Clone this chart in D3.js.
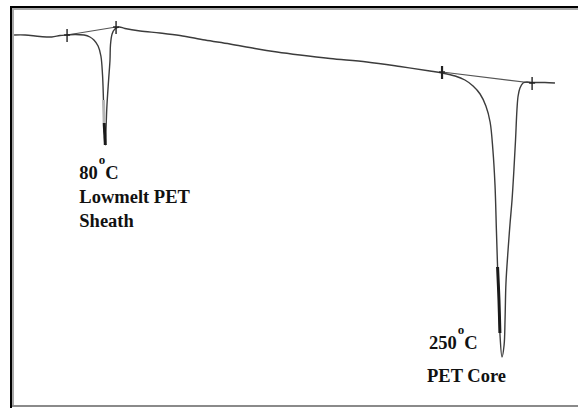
<!DOCTYPE html>
<html>
<head>
<meta charset="utf-8">
<script src="https://cdn.jsdelivr.net/npm/d3@7"></script>
<style>
  html, body { margin: 0; padding: 0; background: #fff; }
  svg { display: block; }
</style>
</head>
<body>
<svg id="chart" width="578" height="408"></svg>
<script>
// DSC trace of a bicomponent PET fibre: heat flow (endo down) vs temperature
const temps = [
  40.9, 45.6, 52.0, 57.1, 60.6, 63.6, 67.0, 70.9, 73.4, 75.1, 76.9, 78.1, 78.8, 79.2, 79.5,
  80.0,
  80.3, 80.7, 81.4, 82.0, 82.2, 82.9, 84.1, 85.9, 88.4, 94.9, 103.4, 112.0, 122.7, 133.4,
  144.1, 153.6, 163.4, 176.3, 192.1, 206.3, 219.1, 224.3, 229.9, 234.1, 237.6, 240.6, 243.1,
  244.9, 246.1, 247.0, 247.6, 248.1, 248.7, 249.1,
  250.0,
  250.9, 251.3, 251.7, 252.6, 253.4, 254.3, 255.1, 255.8, 256.4, 256.9, 257.7, 259.0, 260.7,
  262.9, 268.4, 272.7
];
const heatFlow = [
  -1.0, -1.0, -1.15, -1.2, -1.05, -1.0, -0.95, -1.0, -1.2, -1.5, -2.1, -3.1, -5.0, -7.5, -9.8,
  -12.0,
  -10.3, -8.0, -5.5, -3.5, -2.0, -0.9, -0.4, -0.2, -0.35, -0.6, -0.8, -1.05, -1.5, -1.9,
  -2.35, -2.7, -3.0, -3.35, -3.7, -4.15, -4.6, -4.8, -5.1, -5.5, -6.1, -6.9, -8.1,
  -9.7, -12.5, -16.0, -20.5, -24.2, -27.5, -30.8,
  -33.2,
  -32.0, -29.5, -25.8, -22.5, -20.0, -17.5, -14.5, -11.5, -8.5, -7.1, -6.3, -5.8, -5.7,
  -5.75, -5.75, -5.8
];

// Construction baselines joining the onset / endset markers of each peak
const tangentTemps = [[63.6, 84.6], [224.3, 262.9]];
const tangentFlows = [[-1.0, -0.2], [-4.7, -5.8]];
const markerTemps = [63.6, 84.6, 224.3, 262.9];
const markerFlows = [-1.0, -0.2, -4.7, -5.8];

// Darker recorded stretches near the peak minima
const darkBands = [[79.4, 80.0], [248.0, 249.2]];
const lightBands = [[79.1, 79.5]];

// Peak annotations
const peakTemps = [80, 250];
const peakValues = ["80", "250"];
const peakNames = [["Lowmelt PET", "Sheath"], ["PET Core"]];

const svg = d3.select("#chart");
const W = 578, H = 408;

const x = d3.scaleLinear().domain([40, 280]).range([12, 572]);
const y = d3.scaleLinear().domain([0, -34]).range([25, 365]);

// Frame: dark top/left edge with a grey inner bevel, grey bottom edge
const frame = svg.append("g");
frame.append("rect").attr("x", 10).attr("y", 6).attr("width", W - 10).attr("height", 2).attr("fill", "#000");
frame.append("rect").attr("x", 12).attr("y", 8).attr("width", W - 12).attr("height", 2).attr("fill", "#a8a8a8");
frame.append("rect").attr("x", 10).attr("y", 6).attr("width", 2).attr("height", H - 6).attr("fill", "#000");
frame.append("rect").attr("x", 12).attr("y", 8).attr("width", 2).attr("height", H - 10).attr("fill", "#a8a8a8");
frame.append("rect").attr("x", 12).attr("y", 405).attr("width", W - 12).attr("height", 2).attr("fill", "#8a8a8a");

const pts = temps.map((t, i) => [t, heatFlow[i]]);
const line = d3.line()
  .x(d => x(d[0]))
  .y(d => y(d[1]))
  .curve(d3.curveCatmullRom.alpha(0.5));

// Tangent construction lines
tangentTemps.forEach((tt, i) => {
  svg.append("line")
    .attr("x1", x(tt[0])).attr("y1", y(tangentFlows[i][0]))
    .attr("x2", x(tt[1])).attr("y2", y(tangentFlows[i][1]))
    .attr("stroke", "#555").attr("stroke-width", 1.2);
});

// Main trace
svg.append("path")
  .datum(pts)
  .attr("d", line)
  .attr("fill", "none")
  .attr("stroke", "#3c3c3c")
  .attr("stroke-width", 1.4)
  .attr("stroke-linejoin", "round");

lightBands.forEach(b => {
  const seg = pts.filter(d => d[0] >= b[0] && d[0] <= b[1]);
  svg.append("path").datum(seg).attr("d", line)
    .attr("fill", "none").attr("stroke", "#b5b5b5").attr("stroke-width", 3);
});
darkBands.forEach(b => {
  const seg = pts.filter(d => d[0] >= b[0] && d[0] <= b[1]);
  svg.append("path").datum(seg).attr("d", line)
    .attr("fill", "none").attr("stroke", "#1a1a1a").attr("stroke-width", 3);
});

// Onset / endset markers
const mk = svg.append("g").attr("stroke", "#222");
markerTemps.forEach((t, i) => {
  const cx = x(t), cy = y(markerFlows[i]);
  mk.append("line").attr("x1", cx).attr("x2", cx).attr("y1", cy - 6).attr("y2", cy + 7)
    .attr("stroke-width", i === 2 ? 2.2 : 1.4);
  mk.append("line").attr("x1", cx - 3).attr("x2", cx + 3).attr("y1", cy).attr("y2", cy)
    .attr("stroke-width", 1.4);
});

// Labels
const font = "'Liberation Serif', 'Times New Roman', serif";
const labelOffsets = [{dx: -26, dy: 34, gap: 24}, {dx: -73, dy: -8, gap: 33}];
peakTemps.forEach((t, i) => {
  const lx = x(t) + labelOffsets[i].dx;
  const ly = y(heatFlow[temps.indexOf(t)]) + labelOffsets[i].dy;
  const txt = svg.append("text")
    .attr("x", lx).attr("y", ly)
    .attr("font-family", font).attr("font-weight", "bold")
    .attr("font-size", 18.5).attr("fill", "#111");
  txt.append("tspan").text(peakValues[i]);
  txt.append("tspan").attr("dx", 1).attr("dy", -15).attr("font-size", 13).text("o");
  txt.append("tspan").attr("dy", 15).text("C");
  peakNames[i].forEach((n, j) => {
    svg.append("text")
      .attr("x", lx - (i === 1 ? 2 : 0))
      .attr("y", ly + labelOffsets[i].gap * (j + 1))
      .attr("font-family", font).attr("font-weight", "bold")
      .attr("font-size", 18.5).attr("fill", "#111")
      .text(n);
  });
});
</script>
</body>
</html>
